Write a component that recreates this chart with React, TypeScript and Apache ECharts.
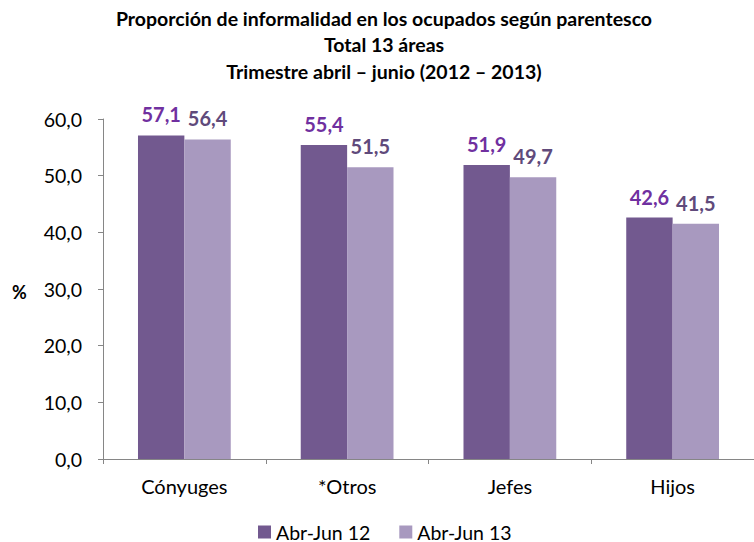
import React, { useEffect, useRef } from "react";
import * as echarts from "echarts";

const categories = ["Cónyuges", "*Otros", "Jefes", "Hijos"];
const serie2012 = [57.1, 55.4, 51.9, 42.6];
const serie2013 = [56.4, 51.5, 49.7, 41.5];
const seriesNames = ["Abr-Jun 12", "Abr-Jun 13"];
const titleLines = [
  "Proporción de informalidad en los ocupados según parentesco",
  "Total 13 áreas",
  "Trimestre abril – junio (2012 – 2013)",
];

const FONT = "Lato, 'Noto Sans', sans-serif";
const fmt = (v: number) => v.toFixed(1).replace(".", ",");

export default function App() {
  const ref = useRef<HTMLDivElement>(null);
  useEffect(() => {
    if (!ref.current) return;
    const chart = echarts.init(ref.current, null, { renderer: "svg" });
    chart.setOption({
      animation: false,
      backgroundColor: "#ffffff",
      textStyle: { fontFamily: FONT },
      title: {
        text: titleLines.join("\n"),
        left: 379,
        textAlign: "center",
        top: 0,
        textStyle: {
          fontFamily: FONT,
          fontSize: 19.5,
          fontWeight: "bold",
          color: "#000000",
          lineHeight: 26.5,
        },
      },
      graphic: [
        {
          type: "text",
          left: 12,
          top: 283,
          style: { text: "%", font: `bold 18px ${FONT}`, fill: "#000" },
        },
      ],
      legend: {
        bottom: 0,
        left: 258,
        padding: 0,
        itemWidth: 13,
        itemHeight: 13,
        itemGap: 29,
        icon: "rect",
        textStyle: { fontFamily: FONT, fontSize: 19.5, color: "#000", padding: [0, 0, 0, 0] },
        data: seriesNames,
      },
      grid: { left: 103, right: -10, top: 119, bottom: 83, containLabel: false },
      xAxis: {
        type: "category",
        data: categories,
        axisLine: { lineStyle: { color: "#868686", width: 1 } },
        axisTick: { show: true, length: 5, lineStyle: { color: "#868686" } },
        axisLabel: { fontFamily: FONT, fontSize: 20, color: "#000", margin: 17 },
      },
      yAxis: {
        type: "value",
        min: 0,
        max: 60,
        interval: 10,
        axisLine: { show: true, lineStyle: { color: "#868686", width: 1 } },
        axisTick: { show: true, length: 5, lineStyle: { color: "#868686" } },
        splitLine: { show: false },
        axisLabel: {
          fontFamily: FONT,
          fontSize: 19.5,
          color: "#000",
          margin: 21,
          formatter: (v: number) => fmt(v),
        },
      },
      series: [
        {
          name: seriesNames[0],
          type: "bar",
          data: serie2012,
          barGap: "0%",
          barCategoryGap: "43%",
          itemStyle: { color: "#72598F" },
          label: {
            show: true,
            position: "top",
            distance: 11,
            fontFamily: FONT,
            fontSize: 20,
            fontWeight: "bold",
            color: "#7030A0",
            formatter: (p: any) => fmt(p.value),
          },
        },
        {
          name: seriesNames[1],
          type: "bar",
          data: serie2013,
          itemStyle: { color: "#A899BF" },
          label: {
            show: true,
            position: "top",
            distance: 11,
            fontFamily: FONT,
            fontSize: 20,
            fontWeight: "bold",
            color: "#604A7B",
            formatter: (p: any) => fmt(p.value),
          },
        },
      ],
    });
    return () => chart.dispose();
  }, []);
  return (
    <div
      ref={ref}
      style={{ position: "absolute", left: 0, top: 0, width: 754, height: 542, overflow: "hidden" }}
    />
  );
}
